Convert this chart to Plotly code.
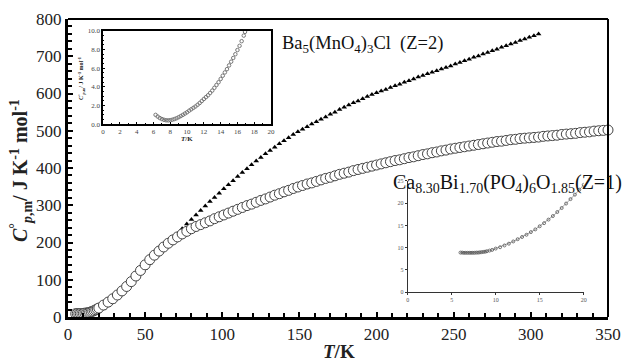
import plotly.graph_objects as go

# ---------------- data ----------------
# Ba5(MnO4)3Cl (Z=2) main series
ba_T = [6, 7, 8, 9, 10, 11, 12, 13, 14, 15, 16, 17, 18, 19,
        20, 23, 26, 29, 32, 35, 38, 41, 44, 47, 50, 53, 56, 59, 62, 65, 68, 71, 74, 77,
        80, 83, 86, 89, 92, 95, 98, 101, 104, 107, 110, 113, 116, 119, 122, 125, 128,
        131, 134, 137, 140, 143, 146, 149, 152, 155, 158, 161, 164, 167, 170, 173, 176,
        179, 182, 185, 188, 191, 194, 197, 200, 203, 206, 209, 212, 215, 218, 221, 224,
        227, 230, 233, 236, 239, 242, 245, 248, 251, 254, 257, 260, 263, 266, 269, 272,
        275, 278, 281, 284, 287, 290, 293, 296, 299, 302, 305]
ba_Cp = [1.0, 0.55, 0.45, 0.8, 1.3, 1.9, 2.7, 3.6, 4.9, 6.3, 8.0, 10.2, 12.5, 14.2,
         16, 23, 31, 40, 51, 63, 75, 88, 102, 116, 130, 144, 157, 171, 184, 197, 210,
         223, 237, 250, 262, 274, 286, 298, 310, 321, 332, 344, 355, 366, 377, 388, 398,
         409, 419, 428, 438, 447, 456, 465, 473, 481, 490, 497, 504, 511, 518, 524, 531,
         537, 544, 550, 557, 563, 569, 575, 580, 586, 592, 597, 602, 607, 611, 616, 621,
         625, 630, 634, 639, 644, 648, 653, 657, 661, 666, 670, 674, 679, 683, 688, 692,
         697, 701, 706, 710, 715, 719, 724, 728, 733, 737, 742, 746, 751, 755, 760]

# Ca8.30Bi1.70(PO4)6O1.85 (Z=1) main series
ca_T = [5, 6, 7, 8, 9, 10, 11, 12, 13, 14, 15, 16, 17, 18, 19,
        20, 23, 26, 29, 32, 35, 38, 41, 44, 47, 50, 53, 56, 59, 62, 65, 68, 71, 74, 77,
        80, 83, 86, 89, 92, 95, 98, 101, 104, 107, 110, 113, 116, 119, 122, 125, 128,
        131, 134, 137, 140, 143, 146, 149, 152, 155, 158, 161, 164, 167, 170, 173, 176,
        179, 182, 185, 188, 191, 194, 197, 200, 203, 206, 209, 212, 215, 218, 221, 224,
        227, 230, 233, 236, 239, 242, 245, 248, 251, 254, 257, 260, 263, 266, 269, 272,
        275, 278, 281, 284, 287, 290, 293, 296, 299, 302, 305, 308, 311, 314, 317, 320,
        323, 326, 329, 332, 335, 338, 341, 344, 347, 350]
ca_Cp = [9, 8.8, 8.8, 8.9, 9.2, 9.7, 10.2, 10.8, 11.5, 12.5, 14, 15.5, 17.4, 19.4, 21.6,
         24, 32, 40, 49, 59, 70, 82, 95, 110, 125, 140, 154, 166, 177, 188, 198, 207,
         215, 223, 230, 237, 243, 248, 253, 258, 264, 269, 274, 279, 284, 289, 294, 299,
         303, 308, 313, 317, 322, 327, 331, 336, 340, 345, 349, 353, 357, 360, 364, 368,
         372, 375, 379, 383, 386, 389, 393, 396, 399, 402, 405, 408, 411, 414, 417, 420,
         422, 425, 428, 430, 433, 436, 438, 441, 443, 446, 448, 451, 453, 455, 457, 459,
         461, 463, 465, 467, 469, 471, 472, 474, 476, 477, 479, 480, 481, 482, 483, 485,
         486, 487, 488, 490, 491, 492, 493, 495, 496, 497, 499, 500, 501, 502]

# Inset 1: Ba5(MnO4)3Cl low temperature
in1_T = [6.25, 6.5, 6.75, 7.0, 7.25, 7.5, 7.75, 8.0, 8.25, 8.5, 8.75, 9.0, 9.25, 9.5, 9.75,
         10.0, 10.25, 10.5, 10.75, 11.0, 11.25, 11.5, 11.75, 12.0, 12.25, 12.5, 12.75,
         13.0, 13.25, 13.5, 13.75, 14.0, 14.25, 14.5, 14.75, 15.0, 15.25, 15.5, 15.75,
         16.0, 16.25, 16.5, 16.75, 16.9]
in1_Cp = [1.0, 0.82, 0.66, 0.55, 0.47, 0.42, 0.41, 0.43, 0.48, 0.55, 0.64, 0.75, 0.87,
          1.0, 1.14, 1.28, 1.45, 1.6, 1.75, 1.9, 2.08, 2.27, 2.48, 2.7, 2.9, 3.1, 3.35,
          3.6, 3.9, 4.2, 4.5, 4.85, 5.2, 5.55, 5.9, 6.3, 6.7, 7.1, 7.5, 7.95, 8.4, 8.9,
          9.5, 9.9]

# Inset 2: Ca8.30Bi1.70(PO4)6O1.85 low temperature
in2_T = [6.0, 6.2, 6.4, 6.6, 6.8, 7.0, 7.2, 7.4, 7.6, 7.8, 8.0, 8.2, 8.4, 8.6, 8.8, 9.0,
         9.3, 9.6, 10.0, 10.5, 11.0, 11.5, 12.0, 12.5, 13.0, 13.5, 14.0, 14.5, 15.0,
         15.5, 16.0, 16.5, 17.0, 17.5, 18.0, 18.5, 19.0, 19.5, 20.0]
in2_Cp = [8.9, 8.9, 8.85, 8.85, 8.85, 8.85, 8.85, 8.85, 8.85, 8.9, 8.9, 8.95, 9.0, 9.05,
          9.1, 9.2, 9.35, 9.5, 9.8, 10.1, 10.5, 10.9, 11.4, 11.9, 12.4, 12.9, 13.5, 14.1,
          14.8, 15.5, 16.3, 17.1, 18.0, 18.9, 19.9, 20.9, 21.9, 23.0, 24.1]

main_xticks = [0, 50, 100, 150, 200, 250, 300, 350]
main_yticks = [0, 100, 200, 300, 400, 500, 600, 700, 800]
in1_xticks = [0, 2, 4, 6, 8, 10, 12, 14, 16, 18, 20]
in1_yticks = [0, 2, 4, 6, 8, 10]
in1_ylabels = ["0.0", "2.0", "4.0", "6.0", "8.0", "10.0"]
in2_xticks = [0, 5, 10, 15, 20]
in2_yticks = [0, 5, 10, 15, 20, 25]

# ---------------- figure ----------------
SERIF = "Liberation Serif"
fig = go.Figure()

fig.add_trace(go.Scatter(x=ba_T, y=ba_Cp, mode="markers",
                         marker=dict(symbol="triangle-up", size=5, color="black"),
                         xaxis="x", yaxis="y", cliponaxis=False))
fig.add_trace(go.Scatter(x=ca_T, y=ca_Cp, mode="markers",
                         marker=dict(symbol="circle", size=10, color="white",
                                     line=dict(width=1, color="#444444")),
                         xaxis="x", yaxis="y", cliponaxis=False))

fig.add_trace(go.Scatter(x=in1_T, y=in1_Cp, mode="markers",
                         marker=dict(symbol="circle-open", size=3.5, color="#777777",
                                     line=dict(width=1)),
                         xaxis="x2", yaxis="y2"))
fig.add_trace(go.Scatter(x=in2_T, y=in2_Cp, mode="lines+markers",
                         line=dict(color="#888888", width=0.8),
                         marker=dict(symbol="circle-open", size=3, color="#555555",
                                     line=dict(width=0.8)),
                         xaxis="x3", yaxis="y3"))

axis_font = dict(family=SERIF, size=17, color="#222222")
fig.update_layout(
    width=631, height=363,
    margin=dict(l=68, r=10, t=17, b=46),
    paper_bgcolor="white", plot_bgcolor="white",
    showlegend=False,
    xaxis=dict(domain=[0, 1], range=[0, 350], tickvals=main_xticks,
               showgrid=False, zeroline=False, showline=True, linecolor="black",
               linewidth=3, ticks="inside", ticklen=5, tickwidth=1.5, tickcolor="black",
               minor=dict(dtick=10, ticks="inside", ticklen=4, tickcolor="black", tickwidth=1.5),
               tickfont=axis_font, anchor="y"),
    yaxis=dict(domain=[0, 1], range=[0, 800], tickvals=main_yticks,
               showgrid=False, zeroline=False, showline=True, linecolor="black",
               linewidth=3, ticks="inside", ticklen=5, tickwidth=1.5, tickcolor="black",
               minor=dict(dtick=20, ticks="inside", ticklen=4, tickcolor="black", tickwidth=1.5),
               tickfont=axis_font, anchor="x"),
    # inset 1
    xaxis2=dict(domain=[0.065, 0.376], range=[0, 20], tickvals=in1_xticks,
                showgrid=False, zeroline=False, showline=True, mirror=True,
                linecolor="black", linewidth=1.5, ticks="inside", ticklen=2,
                tickcolor="black",
                minor=dict(dtick=1, ticks="inside", ticklen=1.5, tickcolor="black"),
                tickfont=dict(family=SERIF, size=7, color="#444"), anchor="y2"),
    yaxis2=dict(domain=[0.647, 0.96], range=[0, 10], tickvals=in1_yticks,
                ticktext=in1_ylabels,
                showgrid=False, zeroline=False, showline=True, mirror=True,
                linecolor="black", linewidth=1.5, ticks="inside", ticklen=2,
                tickcolor="black",
                minor=dict(dtick=0.5, ticks="inside", ticklen=1.5, tickcolor="black"),
                tickfont=dict(family=SERIF, size=7, color="#444"), anchor="x2"),
    # inset 2
    xaxis3=dict(domain=[0.629, 0.955], range=[0, 20], tickvals=in2_xticks,
                showgrid=False, zeroline=False, showline=True, mirror=False,
                linecolor="#333", linewidth=1, ticks="outside", ticklen=2,
                tickcolor="#333",
                tickfont=dict(family=SERIF, size=6, color="#555"), anchor="y3"),
    yaxis3=dict(domain=[0.083, 0.457], range=[0, 25], tickvals=in2_yticks,
                showgrid=False, zeroline=False, showline=True, mirror=False,
                linecolor="#333", linewidth=1, ticks="outside", ticklen=2,
                tickcolor="#333",
                tickfont=dict(family=SERIF, size=6, color="#555"), anchor="x3"),
)

# top / right frame of main plot
fig.add_shape(type="line", xref="paper", yref="paper", x0=0, x1=1, y0=1, y1=1,
              line=dict(color="black", width=2))
fig.add_shape(type="line", xref="paper", yref="paper", x0=1, x1=1, y0=0, y1=1,
              line=dict(color="black", width=2))

ann = [
    dict(text="<b><i>C</i><sup>°</sup><sub><i>p</i>,m</sub>/ J K<sup>-1</sup> mol<sup>-1</sup></b>",
         x=-0.087, y=0.49, xref="paper", yref="paper", textangle=-90,
         showarrow=False, xanchor="center", yanchor="middle",
         font=dict(family=SERIF, size=20, color="#222")),
    dict(text="<b><i>T</i>/K</b>", x=0.502, y=-0.117, xref="paper", yref="paper",
         showarrow=False, xanchor="center", yanchor="middle",
         font=dict(family=SERIF, size=19, color="#222")),
    dict(text="Ba<sub>5</sub>(MnO<sub>4</sub>)<sub>3</sub>Cl  (Z=2)",
         x=0.392, y=0.913, xref="paper", yref="paper", showarrow=False,
         xanchor="left", yanchor="middle",
         font=dict(family=SERIF, size=18.5, color="#111")),
    dict(text="Ca<sub>8.30</sub>Bi<sub>1.70</sub>(PO<sub>4</sub>)<sub>6</sub>O<sub>1.85</sub>(Z=1)",
         x=0.598, y=0.447, xref="paper", yref="paper", showarrow=False,
         xanchor="left", yanchor="middle",
         font=dict(family=SERIF, size=20, color="#111")),
    dict(text="<b><i>C</i><sup>°</sup><sub><i>p</i>,m</sub>/ J K<sup>-1</sup> mol<sup>-1</sup></b>",
         x=0.025, y=0.80, xref="paper", yref="paper", textangle=-90,
         showarrow=False, xanchor="center", yanchor="middle",
         font=dict(family=SERIF, size=6, color="#222")),
    dict(text="<b><i>T</i>/K</b>", x=0.22, y=0.597, xref="paper", yref="paper",
         showarrow=False, xanchor="center", yanchor="middle",
         font=dict(family=SERIF, size=7, color="#222")),
]
fig.update_layout(annotations=ann)

fig.write_html("out.html")
